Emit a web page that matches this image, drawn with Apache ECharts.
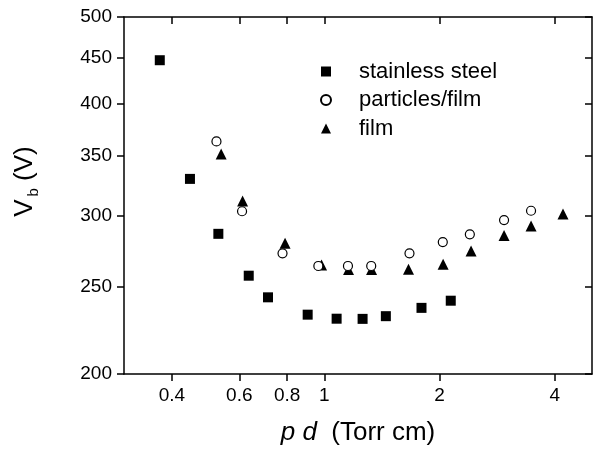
<!DOCTYPE html>
<html lang="en">
<head>
    <meta charset="UTF-8">
    <title>Breakdown voltage</title>
    <script src="https://cdn.jsdelivr.net/npm/echarts@6.0.0/dist/echarts.min.js"></script>
</head>
<body style="margin:0">
    <div id="main" style="width:597px;height:453px;"></div>
    <script type="text/javascript">
        // data (pd in Torr cm, Vb in V)
        const steelPd = [0.372, 0.446, 0.529, 0.635, 0.713, 0.905, 1.077, 1.259, 1.448, 1.794, 2.139];
        const steelVb = [447.5, 330, 286.6, 257.4, 243.5, 232.9, 230.5, 230.4, 232.0, 237.0, 241.4];
        const particlesPd = [0.523, 0.610, 0.778, 0.965, 1.153, 1.326, 1.669, 2.039, 2.399, 2.947, 3.466];
        const particlesVb = [363.3, 303.7, 272.6, 263.9, 263.9, 263.9, 272.6, 280.6, 286.2, 296.9, 304.1];
        const filmPd = [0.538, 0.612, 0.790, 0.984, 1.157, 1.329, 1.659, 2.043, 2.417, 2.947, 3.466, 4.20];
        const filmVb = [351.8, 311.8, 279.7, 264.5, 261.6, 261.6, 261.7, 265.0, 274.3, 285.3, 292.4, 301.6];
        const xTicks = [0.4, 0.6, 0.8, 1, 2, 4];
        const yTicks = [200, 250, 300, 350, 400, 450, 500];

        const pairs = (xs, ys) => xs.map((x, i) => [x, ys[i]]);
        const font = 'Liberation Sans, Arial, sans-serif';
        const lineStyle = { color: '#000', width: 1.5 };

        let myChart = echarts.init(document.getElementById('main'));

        let options = {
            animation: false,
            textStyle: { fontFamily: font, color: '#000' },
            grid: { left: 124, top: 17, right: 5, bottom: 79 },
            legend: {
                orient: 'vertical',
                left: 320,
                top: 60.5,
                padding: 0,
                itemWidth: 10,
                itemHeight: 10,
                itemGap: 6.5,
                data: ['stainless steel', 'particles/film', 'film'],
                textStyle: { fontFamily: font, fontSize: 22, color: '#000', lineHeight: 22, padding: [0, 0, 0, 23] }
            },
            xAxis: [{
                type: 'log',
                min: 0.3,
                max: 5,
                position: 'bottom',
                name: '{i|p d}  (Torr cm)',
                nameLocation: 'middle',
                nameGap: 46,
                nameTextStyle: {
                    fontSize: 26, color: '#000', fontFamily: font,
                    rich: { i: { fontSize: 26, fontStyle: 'italic', fontFamily: font } }
                },
                axisLine: { lineStyle: lineStyle },
                axisTick: { length: 7, lineStyle: lineStyle, customValues: xTicks },
                axisLabel: { fontSize: 19, color: '#000', margin: 12, customValues: xTicks, formatter: v => String(v) },
                splitLine: { show: false },
                minorTick: { show: false }
            }, {
                type: 'log',
                min: 0.3,
                max: 5,
                position: 'top',
                axisLine: { lineStyle: lineStyle },
                axisTick: { inside: true, length: 7, lineStyle: lineStyle, customValues: xTicks },
                axisLabel: { show: false },
                splitLine: { show: false }
            }],
            yAxis: [{
                type: 'log',
                min: 200,
                max: 500,
                position: 'left',
                name: 'V{s|b} (V)',
                nameLocation: 'middle',
                nameGap: 83,
                nameTextStyle: {
                    fontSize: 26, color: '#000', fontFamily: font,
                    padding: [0, 0, 0, 28],
                    rich: {
                        s: { fontSize: 15, fontFamily: font, padding: [18, 0, 0, 3] }
                    }
                },
                axisLine: { lineStyle: lineStyle },
                axisTick: { length: 7, lineStyle: lineStyle, customValues: yTicks },
                axisLabel: { fontSize: 19, color: '#000', margin: 12, customValues: yTicks, formatter: v => String(v) },
                splitLine: { show: false },
                minorTick: { show: false }
            }, {
                type: 'log',
                min: 200,
                max: 500,
                position: 'right',
                axisLine: { lineStyle: lineStyle },
                axisTick: { inside: true, length: 7, lineStyle: lineStyle, customValues: yTicks },
                axisLabel: { show: false },
                splitLine: { show: false }
            }],
            series: [{
                name: 'stainless steel',
                type: 'scatter',
                symbol: 'rect',
                symbolSize: 10,
                itemStyle: { color: '#000', opacity: 1 },
                data: pairs(steelPd, steelVb)
            }, {
                name: 'particles/film',
                type: 'scatter',
                symbol: 'circle',
                symbolSize: 9,
                z: 4,
                itemStyle: { color: '#fff', borderColor: '#000', borderWidth: 1.2, opacity: 1 },
                data: pairs(particlesPd, particlesVb)
            }, {
                name: 'film',
                type: 'scatter',
                symbol: 'triangle',
                symbolSize: 11,
                itemStyle: { color: '#000', opacity: 1 },
                data: pairs(filmPd, filmVb)
            }]
        };

        myChart.setOption(options);
    </script>
</body>
</html>
